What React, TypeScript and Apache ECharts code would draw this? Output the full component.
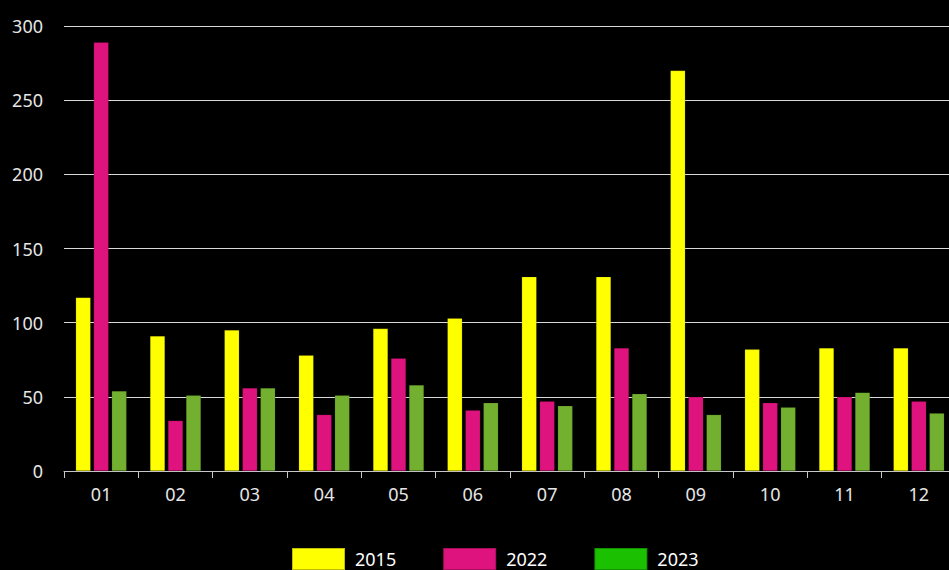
import React, { useEffect, useRef } from "react";
import * as echarts from "echarts";

const categories = ["01", "02", "03", "04", "05", "06", "07", "08", "09", "10", "11", "12"];
const seriesNames = ["2015", "2022", "2023"];
const values2015 = [117, 91, 95, 78, 96, 103, 131, 131, 270, 82, 83, 83];
const values2022 = [289, 34, 56, 38, 76, 41, 47, 83, 50, 46, 50, 47];
const values2023 = [54, 51, 56, 51, 58, 46, 44, 52, 38, 43, 53, 39];
const barColors = ["#ffff00", "#df137e", "#73b02f"];
const legendColors = ["#ffff00", "#df137e", "#1bc000"];

export default function App() {
  const ref = useRef<HTMLDivElement>(null);
  useEffect(() => {
    if (!ref.current) return;
    const chart = echarts.init(ref.current, undefined, { renderer: "svg" });
    const font = "'Noto Sans', sans-serif";
    const data = [values2015, values2022, values2023];
    chart.setOption({
      animation: false,
      backgroundColor: "#000000",
      grid: { left: 64, width: 892, top: 26, bottom: 99, containLabel: false, outerBoundsMode: "none" },
      legend: {
        left: 291,
        top: 547,
        padding: 0,
        itemWidth: 53,
        itemHeight: 22,
        itemGap: 46,
        icon: "rect",
        textStyle: { color: "#ffffff", fontSize: 18, fontFamily: font, padding: [0, 0, 0, 5] },
        data: seriesNames.map((n, i) => ({ name: n, itemStyle: { color: legendColors[i] } })),
      },
      xAxis: {
        type: "category",
        data: categories,
        axisLine: { lineStyle: { color: "#c8c8c8", width: 1 } },
        axisTick: { show: true, length: 7, lineStyle: { color: "#c8c8c8" } },
        axisLabel: { color: "#e6e6e6", fontSize: 18, fontFamily: font, margin: 14 },
      },
      yAxis: {
        type: "value",
        min: 0,
        max: 300,
        interval: 50,
        axisLine: { show: false },
        axisTick: { show: false },
        splitLine: { lineStyle: { color: "#d9d9d9", width: 1 } },
        axisLabel: { color: "#e6e6e6", fontSize: 18, fontFamily: font, margin: 21 },
      },
      series: seriesNames.map((n, i) => ({
        name: n,
        type: "bar",
        data: data[i],
        barWidth: 15,
        barGap: "20%",
        itemStyle: { color: barColors[i], borderColor: "rgba(0,0,0,0.25)", borderWidth: 0.5 },
      })),
    });
    return () => chart.dispose();
  }, []);
  return <div ref={ref} style={{ width: 949, height: 570, position: "absolute", left: 0, top: 0 }} />;
}
